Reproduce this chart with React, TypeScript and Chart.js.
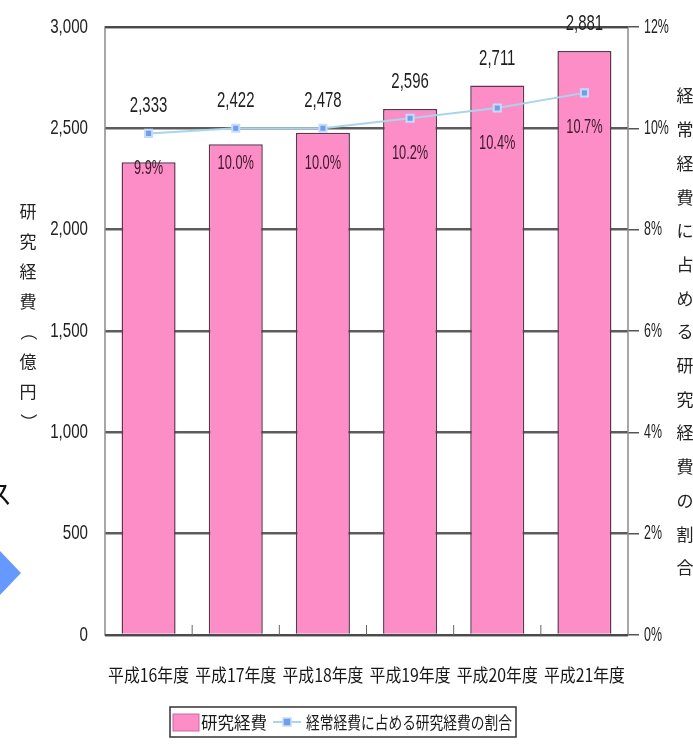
import React, { useEffect, useRef } from "react";
import { Chart, registerables } from "chart.js";

Chart.register(...registerables);

const categories = ["平成16年度", "平成17年度", "平成18年度", "平成19年度", "平成20年度", "平成21年度"];
const researchCost = [2333, 2422, 2478, 2596, 2711, 2881];
const researchRatio = [9.9, 10.0, 10.0, 10.2, 10.4, 10.7];
const ratioLabels = ["9.9%", "10.0%", "10.0%", "10.2%", "10.4%", "10.7%"];
const seriesNames = ["研究経費", "経常経費に占める研究経費の割合"];
const leftTitle = "研究経費（億円）";
const rightTitle = "経常経費に占める研究経費の割合";

const SANS = "'Liberation Sans', Arial, sans-serif";
const CJK = "'Noto Sans CJK JP', 'Noto Sans', sans-serif";

const BAR_FILL = "#fd8dc6";
const BAR_BORDER = "#5e3450";
const LINE_COLOR = "#a9d5ec";
const POINT_FILL = "#6f9fe6";
const POINT_BORDER = "#c6dcff";

function drawText(ctx: any, text: string, x: number, y: number, font: string, sx: number, align: string, color: string) {
  ctx.save();
  ctx.translate(x, y);
  ctx.scale(sx, 1);
  ctx.font = font;
  ctx.fillStyle = color;
  ctx.textAlign = align;
  ctx.textBaseline = "middle";
  ctx.fillText(text, 0, 0);
  ctx.restore();
}

function drawFitted(ctx: any, text: string, x: number, y: number, font: string, width: number, color: string) {
  ctx.save();
  ctx.font = font;
  const w = ctx.measureText(text).width;
  ctx.restore();
  drawText(ctx, text, x, y, font, width / w, "left", color);
}

const decorPlugin = {
  id: "decor",
  beforeDraw(chart: any) {
    const ctx = chart.ctx;
    ctx.save();
    ctx.fillStyle = "#ffffff";
    ctx.fillRect(0, 0, chart.width, chart.height);
    ctx.restore();
  },
  afterDatasetsDraw(chart: any) {
    const ctx = chart.ctx;
    const a = chart.chartArea;
    const xs = chart.scales.x;
    ctx.save();
    // frame
    ctx.strokeStyle = "#8a8a8a";
    ctx.lineWidth = 1.5;
    ctx.strokeRect(a.left, a.top, a.right - a.left, a.bottom - a.top);
    ctx.strokeStyle = "#4a4a4a";
    ctx.lineWidth = 2;
    ctx.beginPath();
    ctx.moveTo(a.left, a.top);
    ctx.lineTo(a.right, a.top);
    ctx.moveTo(a.left, a.bottom);
    ctx.lineTo(a.right, a.bottom);
    ctx.stroke();
    // inner category boundary ticks at bottom
    ctx.lineWidth = 1;
    ctx.strokeStyle = "#666";
    const n = categories.length;
    for (let i = 1; i < n; i++) {
      const x = (xs.getPixelForValue(i - 1) + xs.getPixelForValue(i)) / 2;
      ctx.beginPath();
      ctx.moveTo(x, a.bottom);
      ctx.lineTo(x, a.bottom - 10);
      ctx.stroke();
    }
    // data labels
    const barMeta = chart.getDatasetMeta(1);
    const lineMeta = chart.getDatasetMeta(0);
    for (let i = 0; i < n; i++) {
      const bar = barMeta.data[i];
      const pt = lineMeta.data[i];
      const topY = Math.min(bar.y, pt.y);
      drawText(ctx, researchCost[i].toLocaleString("en-US"), bar.x, topY - 27, `22px ${SANS}`, 0.68, "center", "#1e1e1e");
      drawText(ctx, ratioLabels[i], bar.x, pt.y + 35, `20px ${SANS}`, 0.64, "center", "#3a1a2c");
    }
    ctx.restore();
  },
  afterDraw(chart: any) {
    const ctx = chart.ctx;
    const a = chart.chartArea;
    const ys = chart.scales.y;
    const y1s = chart.scales.y1;
    const xs = chart.scales.x;
    ctx.save();
    // tick labels (condensed, from the scales' own ticks)
    ys.ticks.forEach((t: any) => {
      drawText(ctx, Number(t.value).toLocaleString("en-US"), a.left - 17, ys.getPixelForValue(t.value), `21px ${SANS}`, 0.72, "right", "#222");
    });
    y1s.ticks.forEach((t: any) => {
      drawText(ctx, `${t.value}%`, a.right + 16, y1s.getPixelForValue(t.value), `20px ${SANS}`, 0.62, "left", "#222");
    });
    categories.forEach((c, i) => {
      drawText(ctx, c, xs.getPixelForValue(i), a.bottom + 40, `18px ${CJK}`, 0.88, "center", "#161616");
    });

    // vertical stacked axis titles
    ctx.fillStyle = "#222";
    ctx.textAlign = "center";
    ctx.textBaseline = "middle";
    ctx.font = `17px ${CJK}`;
    Array.from(leftTitle).forEach((ch, i) => {
      ctx.save();
      const y = 212 + i * 30;
      if (ch === "（" || ch === "）") {
        ctx.translate(28, y);
        ctx.rotate(Math.PI / 2);
        ctx.fillText(ch, 0, 0);
      } else {
        ctx.fillText(ch, 28, y);
      }
      ctx.restore();
    });
    ctx.font = `17px ${CJK}`;
    Array.from(rightTitle).forEach((ch, i) => {
      ctx.fillText(ch, 685, 96 + i * 33.7);
    });

    // legend
    const lx = 170, ly = 707, lw = 346, lh = 30;
    ctx.strokeStyle = "#333";
    ctx.lineWidth = 1.5;
    ctx.strokeRect(lx, ly, lw, lh);
    ctx.fillStyle = BAR_FILL;
    ctx.fillRect(lx + 3, ly + 7, 26, 17);
    ctx.strokeStyle = "#c86aa0";
    ctx.lineWidth = 1;
    ctx.strokeRect(lx + 3, ly + 7, 26, 17);
    drawFitted(ctx, seriesNames[0], lx + 31, ly + lh / 2 + 1, `17px ${CJK}`, 66, "#1a1a1a");
    ctx.strokeStyle = LINE_COLOR;
    ctx.lineWidth = 2;
    ctx.beginPath();
    ctx.moveTo(lx + 103, ly + lh / 2);
    ctx.lineTo(lx + 131, ly + lh / 2);
    ctx.stroke();
    ctx.fillStyle = POINT_FILL;
    ctx.strokeStyle = POINT_BORDER;
    ctx.lineWidth = 1.5;
    ctx.fillRect(lx + 113, ly + lh / 2 - 4, 8, 8);
    ctx.strokeRect(lx + 113, ly + lh / 2 - 4, 8, 8);
    drawFitted(ctx, seriesNames[1], lx + 136, ly + lh / 2 + 1, `17px ${CJK}`, 206, "#1a1a1a");

    // cropped fragments at the left edge of the screenshot
    ctx.fillStyle = "#111";
    ctx.font = `26px ${CJK}`;
    ctx.textAlign = "left";
    ctx.textBaseline = "middle";
    ctx.fillText("ス", -14, 494);
    ctx.fillStyle = "#6699ff";
    ctx.beginPath();
    ctx.moveTo(0, 551);
    ctx.lineTo(21, 573);
    ctx.lineTo(0, 595);
    ctx.closePath();
    ctx.fill();
    ctx.restore();
  },
};

export default function App() {
  const ref = useRef<HTMLCanvasElement | null>(null);
  useEffect(() => {
    if (!ref.current) return;
    const chart = new Chart(ref.current, {
      data: {
        labels: categories,
        datasets: [
          {
            type: "line",
            label: seriesNames[1],
            data: researchRatio,
            yAxisID: "y1",
            borderColor: LINE_COLOR,
            borderWidth: 2,
            pointStyle: "rect",
            pointRadius: 5,
            pointBackgroundColor: POINT_FILL,
            pointBorderColor: POINT_BORDER,
            pointBorderWidth: 2,
            tension: 0,
            order: 0,
          },
          {
            type: "bar",
            label: seriesNames[0],
            data: researchCost,
            yAxisID: "y",
            backgroundColor: BAR_FILL,
            borderColor: BAR_BORDER,
            borderWidth: 1.5,
            categoryPercentage: 1,
            barPercentage: 0.62,
            order: 1,
          },
        ],
      } as any,
      options: {
        responsive: false,
        animation: false,
        layout: { padding: { left: 0, right: 0, top: 27, bottom: 60 } },
        plugins: {
          legend: { display: false },
          tooltip: { enabled: false },
        },
        scales: {
          x: {
            grid: { display: false, drawTicks: false },
            border: { display: false },
            ticks: { display: false, autoSkip: false },
            afterFit(scale: any) {
              scale.height = 50;
            },
          },
          y: {
            position: "left",
            min: 0,
            max: 3000,
            ticks: { stepSize: 500, display: false },
            grid: { color: "#5c5c5c", lineWidth: 2.5, drawTicks: false },
            border: { display: false },
            afterFit(scale: any) {
              scale.width = 105;
            },
          },
          y1: {
            position: "right",
            min: 0,
            max: 12,
            ticks: { stepSize: 2, display: false },
            grid: { drawOnChartArea: false, drawTicks: true, tickLength: 11, color: "#555", lineWidth: 1.5 },
            border: { display: false },
            afterFit(scale: any) {
              scale.width = 65;
            },
          },
        },
      } as any,
      plugins: [decorPlugin],
    });
    return () => chart.destroy();
  }, []);
  return (
    <div style={{ position: "fixed", left: 0, top: 0, width: 693, height: 745, background: "#fff" }}>
      <canvas ref={ref} width={693} height={745} style={{ display: "block" }} />
    </div>
  );
}
